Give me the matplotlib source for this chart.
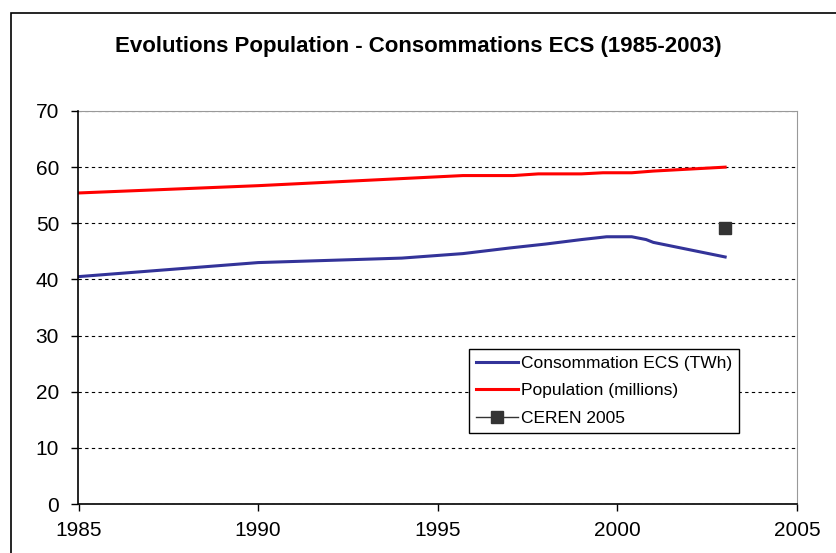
import matplotlib.pyplot as plt
from matplotlib.patches import Rectangle

plt.rcParams['font.family'] = ['Liberation Sans', 'DejaVu Sans']

ecs_years = [1985, 1990, 1994, 1995.7, 1997, 1998, 1999, 1999.7, 2000.4, 2000.8, 2001, 2003]
ecs_values = [40.5, 43.0, 43.8, 44.6, 45.6, 46.3, 47.1, 47.6, 47.6, 47.1, 46.6, 44.0]

pop_years = [1985, 1990, 1995.7, 1997.1, 1997.8, 1999.0, 1999.6, 2000.4, 2001, 2003]
pop_values = [55.4, 56.7, 58.5, 58.5, 58.8, 58.8, 59.0, 59.0, 59.3, 60.0]

ceren_years = [2003]
ceren_values = [49.2]

fig = plt.figure(figsize=(8.37, 5.53), dpi=100)
fig.patches.append(Rectangle((11.5 / 837, -0.1), 1.2, 1.1 - 13 / 553,
                             transform=fig.transFigure, fill=False,
                             edgecolor='black', linewidth=1.2))

ax = fig.add_axes([78.5 / 837, 1 - 504 / 553, (797 - 78.5) / 837, (504 - 111) / 553])
ax.plot(ecs_years, ecs_values, color='#333399', linewidth=2.2, label='Consommation ECS (TWh)')
ax.plot(pop_years, pop_values, color='#ff0000', linewidth=2.2, label='Population (millions)')
ax.plot(ceren_years, ceren_values, color='#333333', linewidth=1, marker='s',
        markersize=8, label='CEREN 2005')

ax.set_xlim(1985, 2005)
ax.set_ylim(0, 70)
ax.set_xticks(range(1985, 2006, 5))
ax.set_yticks(range(0, 71, 10))
ax.yaxis.grid(True, color='black', linestyle=(0, (3, 3)), linewidth=0.8)
ax.set_axisbelow(True)
ax.tick_params(labelsize=15, direction='out', length=5, width=1)
ax.tick_params(axis='x', pad=7)
ax.tick_params(axis='y', pad=9)
ax.spines['top'].set_color('#999999')
ax.spines['right'].set_color('#999999')
ax.spines['left'].set_linewidth(1.2)
ax.spines['bottom'].set_linewidth(1.2)

fig.text(0.5, 1 - 47 / 553, 'Evolutions Population - Consommations ECS (1985-2003)',
         ha='center', va='center', fontsize=16, fontweight='bold')

leg = ax.legend(loc='upper left', bbox_to_anchor=((469 - 78.5) / (797 - 78.5), (504 - 349) / 393),
                fontsize=12.5, frameon=True, fancybox=False, framealpha=1,
                handlelength=2.4, handletextpad=0.2, borderpad=0.4, labelspacing=0.7,
                borderaxespad=0)
leg.get_frame().set_edgecolor('black')
leg.get_frame().set_linewidth(1)

fig.savefig('out.png', dpi=100)
